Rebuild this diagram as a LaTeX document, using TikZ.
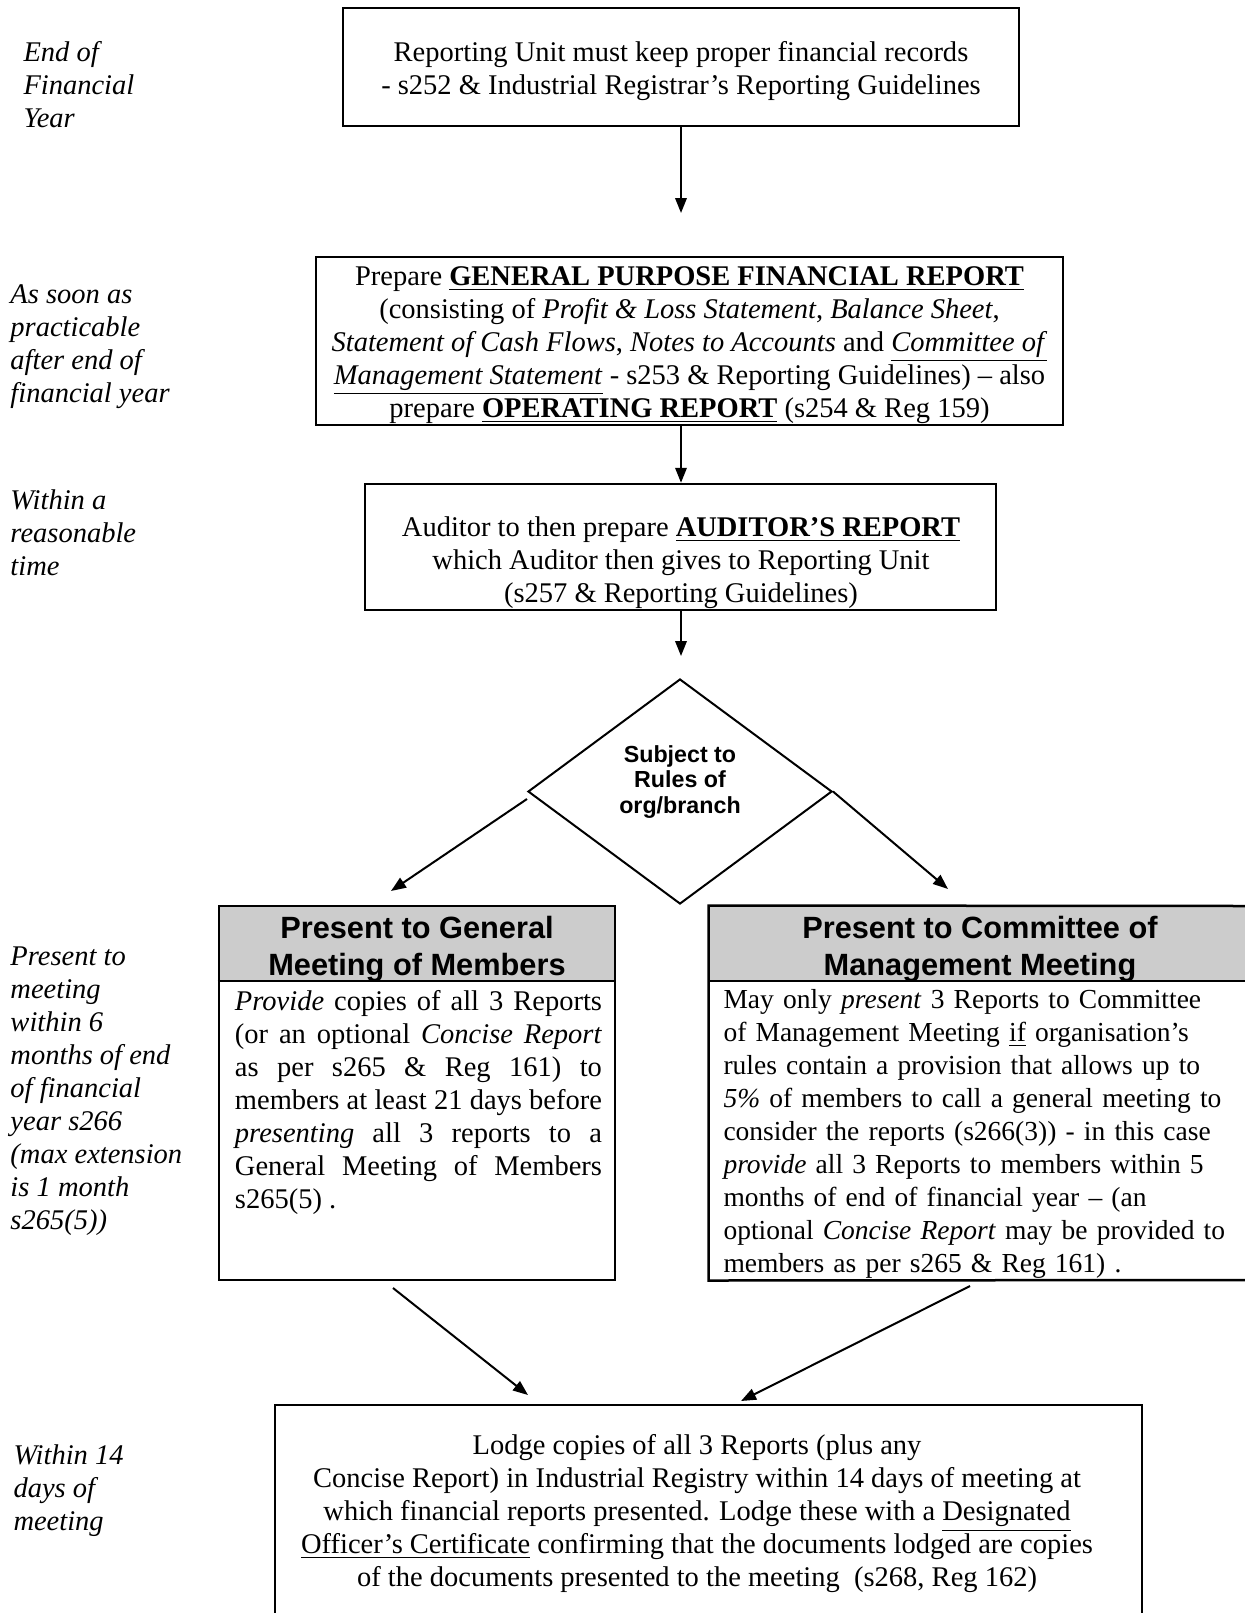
\documentclass[tikz,border=0pt]{standalone}
\usepackage{fontspec}
\setmainfont{Liberation Serif}
\setsansfont{Liberation Sans}
\usetikzlibrary{arrows.meta,shapes.geometric}
\tikzset{
  frame/.style={draw, line width=1pt, inner sep=0pt},
  body/.style={font=\fontsize{11.4pt}{13.2pt}\selectfont, inner sep=0pt},
  lbl/.style={font=\fontsize{11.4pt}{13.2pt}\selectfont\itshape, align=left, anchor=west, inner sep=0pt},
  hdr/.style={font=\fontsize{12.3pt}{14.8pt}\selectfont\sffamily\bfseries, align=center, inner sep=0pt},
  arr/.style={-{Triangle[length=6pt,width=4.6pt]}, line width=0.8pt},
  hdrfill/.style={fill=black!20}
}
\begin{document}
\begin{tikzpicture}[x=0.4pt,y=-0.4pt]
\useasboundingbox[fill=white] (0,0) rectangle (1245,1613);

% left labels
\node[lbl] (l1) at (23,85) {End of\\Financial\\Year};
\node[lbl] (l2) at (10,347) {As soon as\\practicable\\after end of\\financial year};
\node[lbl] (l3) at (10,533) {Within a\\reasonable\\time};
\node[lbl] (l4) at (10,1091) {Present to\\meeting\\within 6\\months of end\\of financial\\year s266\\(max extension\\is 1 month\\s265(5))};
\node[lbl] (l5) at (13,1491) {Within 14\\days of\\meeting};

% box 1
\node[frame, minimum width=270.4pt, minimum height=47.2pt] (b1) at (681,67) {};
\node[body, align=center] (b1t) at (681,71)
 {Reporting Unit must keep proper financial records\\- s252 \& Industrial Registrar's Reporting Guidelines};

% box 2
\node[frame, minimum width=298.8pt, minimum height=67.2pt] (b2) at (689.5,341) {};
\node[body, align=center] (b2t) at (689.5,345)
 {Prepare \textbf{\underline{GENERAL PURPOSE FINANCIAL REPORT}}\\
  (consisting of \textit{Profit \& Loss Statement}, \textit{Balance Sheet},\\
  \textit{Statement of Cash Flows}, \textit{Notes to Accounts} and \underline{\textit{Committee of}}\\
  \underline{\textit{Management Statement}} - s253 \& Reporting Guidelines) -- also\\
  prepare \textbf{\underline{OPERATING REPORT}} (s254 \& Reg 159)};

% box 3
\node[frame, minimum width=252.4pt, minimum height=50.4pt] (b3) at (680.5,547) {};
\node[body, align=center] (b3t) at (681,563)
 {Auditor to then prepare \textbf{\underline{AUDITOR'S REPORT}}\\
  which Auditor then gives to Reporting Unit\\
  (s257 \& Reporting Guidelines)};

% diamond
\node[diamond, draw, line width=0.8pt, inner sep=0pt, minimum width=121.6pt, minimum height=90pt] (dia) at (680,791.5) {};
\node[font=\fontsize{9.3pt}{10.3pt}\selectfont\sffamily\bfseries, align=center, inner sep=0pt] (diat) at (680,782)
 {Subject to\\Rules of\\org/branch};

% arrows top part
\coordinate (a1) at (681,213);
\coordinate (a3) at (681,656);
\draw[arr] (b1.south -| a1) -- (a1);
\draw[arr] (b2.south -| a1) -- (b3.north -| a1);
\draw[arr] (b3.south -| a1) -- (a3);

% general meeting box
\fill[hdrfill] (219,906) rectangle (615,981);
\node[frame, minimum width=158.4pt, minimum height=149.6pt] (gm) at (417,1093) {};
\draw[line width=1pt] (gm.west |- 0,981) -- (gm.east |- 0,981);
\node[hdr] (gmh) at (417,949) {Present to General\\Meeting of Members};
\node[body, align=justify, text width=146.8pt] (gmt) at (418.5,1102)
 {\textit{Provide} copies of all 3 Reports\linebreak
  (or an optional \textit{Concise Report}\linebreak
  as per s265 \& Reg 161) to\linebreak
  members at least 21 days before\linebreak
  \textit{presenting} all 3 reports to a\linebreak
  General Meeting of Members\linebreak
  s265(5) .};

% committee box (right side runs off the page)
\fill[hdrfill] (709,906) rectangle (1245,981);
\coordinate (cmbr) at (1245,1280);
\coordinate (cmtr) at (1245,906);
\node[inner sep=0pt, minimum width=214.4pt, minimum height=149.6pt] (cm) at (977,1093) {};
\draw[line width=1pt] (cmtr) -- (cm.north west) -- (cm.south west) -- (cmbr);
\draw[line width=1pt] (cm.west |- 0,981) -- (1245,981);
\node[hdr] (cmh) at (980,949) {Present to Committee of\\Management Meeting};
\node[body, font=\fontsize{11pt}{13.2pt}\selectfont, align=left, anchor=west, text width=215pt] (cmt) at (723,1134)
 {May only \textit{present} 3 Reports to Committee\\
  of Management Meeting \underline{if} organisation's\\
  rules contain a provision that allows up to\\
  \textit{5\%} of members to call a general meeting to\\
  consider the reports (s266(3)) - in this case\\
  \textit{provide} all 3 Reports to members within 5\\
  months of end of financial year -- (an\\
  optional \textit{Concise Report} may be provided to\\
  members as per s265 \& Reg 161) .};

% diamond arrows
\coordinate (dl) at (391,891);
\coordinate (dr) at (948,889);
\draw[arr] ([yshift=-3pt]dia.west) -- (dl);
\draw[arr] (dia.east) -- (dr);

% bottom box (bottom side runs off the page)
\node[body, align=center] (lodge) at (697,1514)
 {Lodge copies of all 3 Reports (plus any\\
  Concise Report) in Industrial Registry within 14 days of meeting at\\
  which financial reports presented. Lodge these with a \underline{Designated}\\
  \underline{Officer's Certificate} confirming that the documents lodged are copies\\
  of the documents presented to the meeting\ \ (s268, Reg 162)};
\coordinate (lbl) at (275,1613);
\coordinate (ltl) at (275,1405);
\coordinate (ltr) at (1142,1405);
\coordinate (lbr) at (1142,1613);
\draw[line width=1pt] (lbl) -- (ltl) -- (ltr) -- (lbr);

% arrows to bottom box
\coordinate (gs) at (393,1288);
\coordinate (cs) at (970,1286);
\coordinate (ge) at (528,1395);
\coordinate (ce) at (741,1401);
\draw[arr] (gs) -- (ge);
\draw[arr] (cs) -- (ce);
\end{tikzpicture}
\end{document}
